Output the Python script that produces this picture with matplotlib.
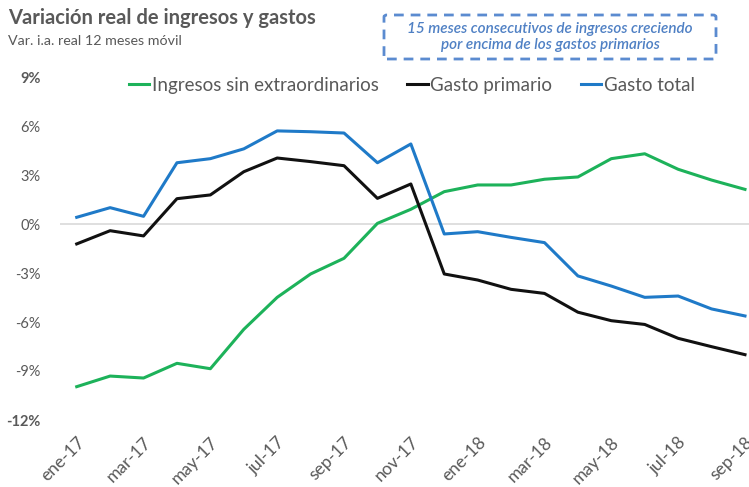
import matplotlib
matplotlib.use("Agg")
import matplotlib.pyplot as plt
from matplotlib.patches import FancyBboxPatch
import numpy as np

# monthly labels, ene-17 .. sep-18
months = ["ene-17", "feb-17", "mar-17", "abr-17", "may-17", "jun-17", "jul-17",
          "ago-17", "sep-17", "oct-17", "nov-17", "dic-17", "ene-18", "feb-18",
          "mar-18", "abr-18", "may-18", "jun-18", "jul-18", "ago-18", "sep-18"]

# % real yoy variation, 12 month moving
ingresos = [-9.96, -9.31, -9.43, -8.53, -8.86, -6.45, -4.49, -3.06, -2.10, 0.04,
            0.90, 1.98, 2.39, 2.39, 2.74, 2.88, 4.00, 4.30, 3.35, 2.69, 2.12]
gasto_primario = [-1.22, -0.41, -0.73, 1.55, 1.78, 3.20, 4.04, 3.82, 3.57, 1.57,
                  2.45, -3.06, -3.43, -4.00, -4.25, -5.40, -5.92, -6.15, -7.00, -7.51, -8.00]
gasto_total = [0.41, 1.00, 0.47, 3.75, 4.00, 4.60, 5.70, 5.65, 5.57, 3.75,
               4.90, -0.61, -0.47, -0.82, -1.14, -3.18, -3.80, -4.49, -4.41, -5.20, -5.63]

yticks = [-12, -9, -6, -3, 0, 3, 6, 9]

plt.rcParams["font.family"] = ["Lato", "DejaVu Sans"]

gray = "#595959"
fig = plt.figure(figsize=(7.49, 4.87), dpi=100)
ax = fig.add_axes([60 / 749, 1 - 420 / 487, 689 / 749, 343 / 487])

x = np.arange(len(months))
ax.axhline(0, color="#d9d9d9", lw=1.2, zorder=1)
ax.plot(x, ingresos, color="#1DB25A", lw=2.2, label="Ingresos sin extraordinarios")
ax.plot(x, gasto_primario, color="#111111", lw=2.2, label="Gasto primario")
ax.plot(x, gasto_total, color="#1F7AC8", lw=2.2, label="Gasto total")

ax.set_xlim(-0.5, 20.12)
ax.set_ylim(-12, 9)
ax.set_yticks(yticks)
ax.set_yticklabels([f"{v}%" for v in yticks])
for lbl in ax.get_yticklabels():
    lbl.set_color(gray)
    lbl.set_fontsize(10.5)
ax.get_yticklabels()[0].set_fontweight("bold")
ax.get_yticklabels()[-1].set_fontweight("bold")

ax.set_xticks(x[::2])
ax.set_xticklabels(months[::2], rotation=45, ha="right", rotation_mode="anchor",
                   color=gray, fontsize=12.5)
ax.tick_params(length=0)
ax.tick_params(axis="x", pad=10)
ax.tick_params(axis="y", pad=14)
for s in ax.spines.values():
    s.set_visible(False)

leg = ax.legend(loc="upper left", bbox_to_anchor=(0.075, 1.05), ncol=3, frameon=False,
                fontsize=13.5, handlelength=1.1, handletextpad=0.15, columnspacing=1.5)
for t in leg.get_texts():
    t.set_color(gray)

fig.text(8 / 749, 1 - 18 / 487, "Variación real de ingresos y gastos", fontsize=14.5,
         fontweight="bold", color=gray, va="center")
fig.text(8 / 749, 1 - 41 / 487, "Var. i.a. real 12 meses móvil", fontsize=10.3,
         color=gray, va="center")

box = FancyBboxPatch((384 / 749, 1 - 59 / 487), 332 / 749, 44 / 487,
                     boxstyle="round,pad=0,rounding_size=0.004", transform=fig.transFigure,
                     fill=False, edgecolor="#5B8BD0", lw=2, linestyle=(0, (3.5, 2.5)))
fig.patches.append(box)
fig.text(550 / 749, 1 - 37 / 487,
         "15 meses consecutivos de ingresos creciendo\npor encima de los gastos primarios",
         ha="center", va="center", fontsize=11, style="italic", fontweight="semibold",
         color="#4F80C4", linespacing=1.25)

fig.savefig("out.png", dpi=100)
